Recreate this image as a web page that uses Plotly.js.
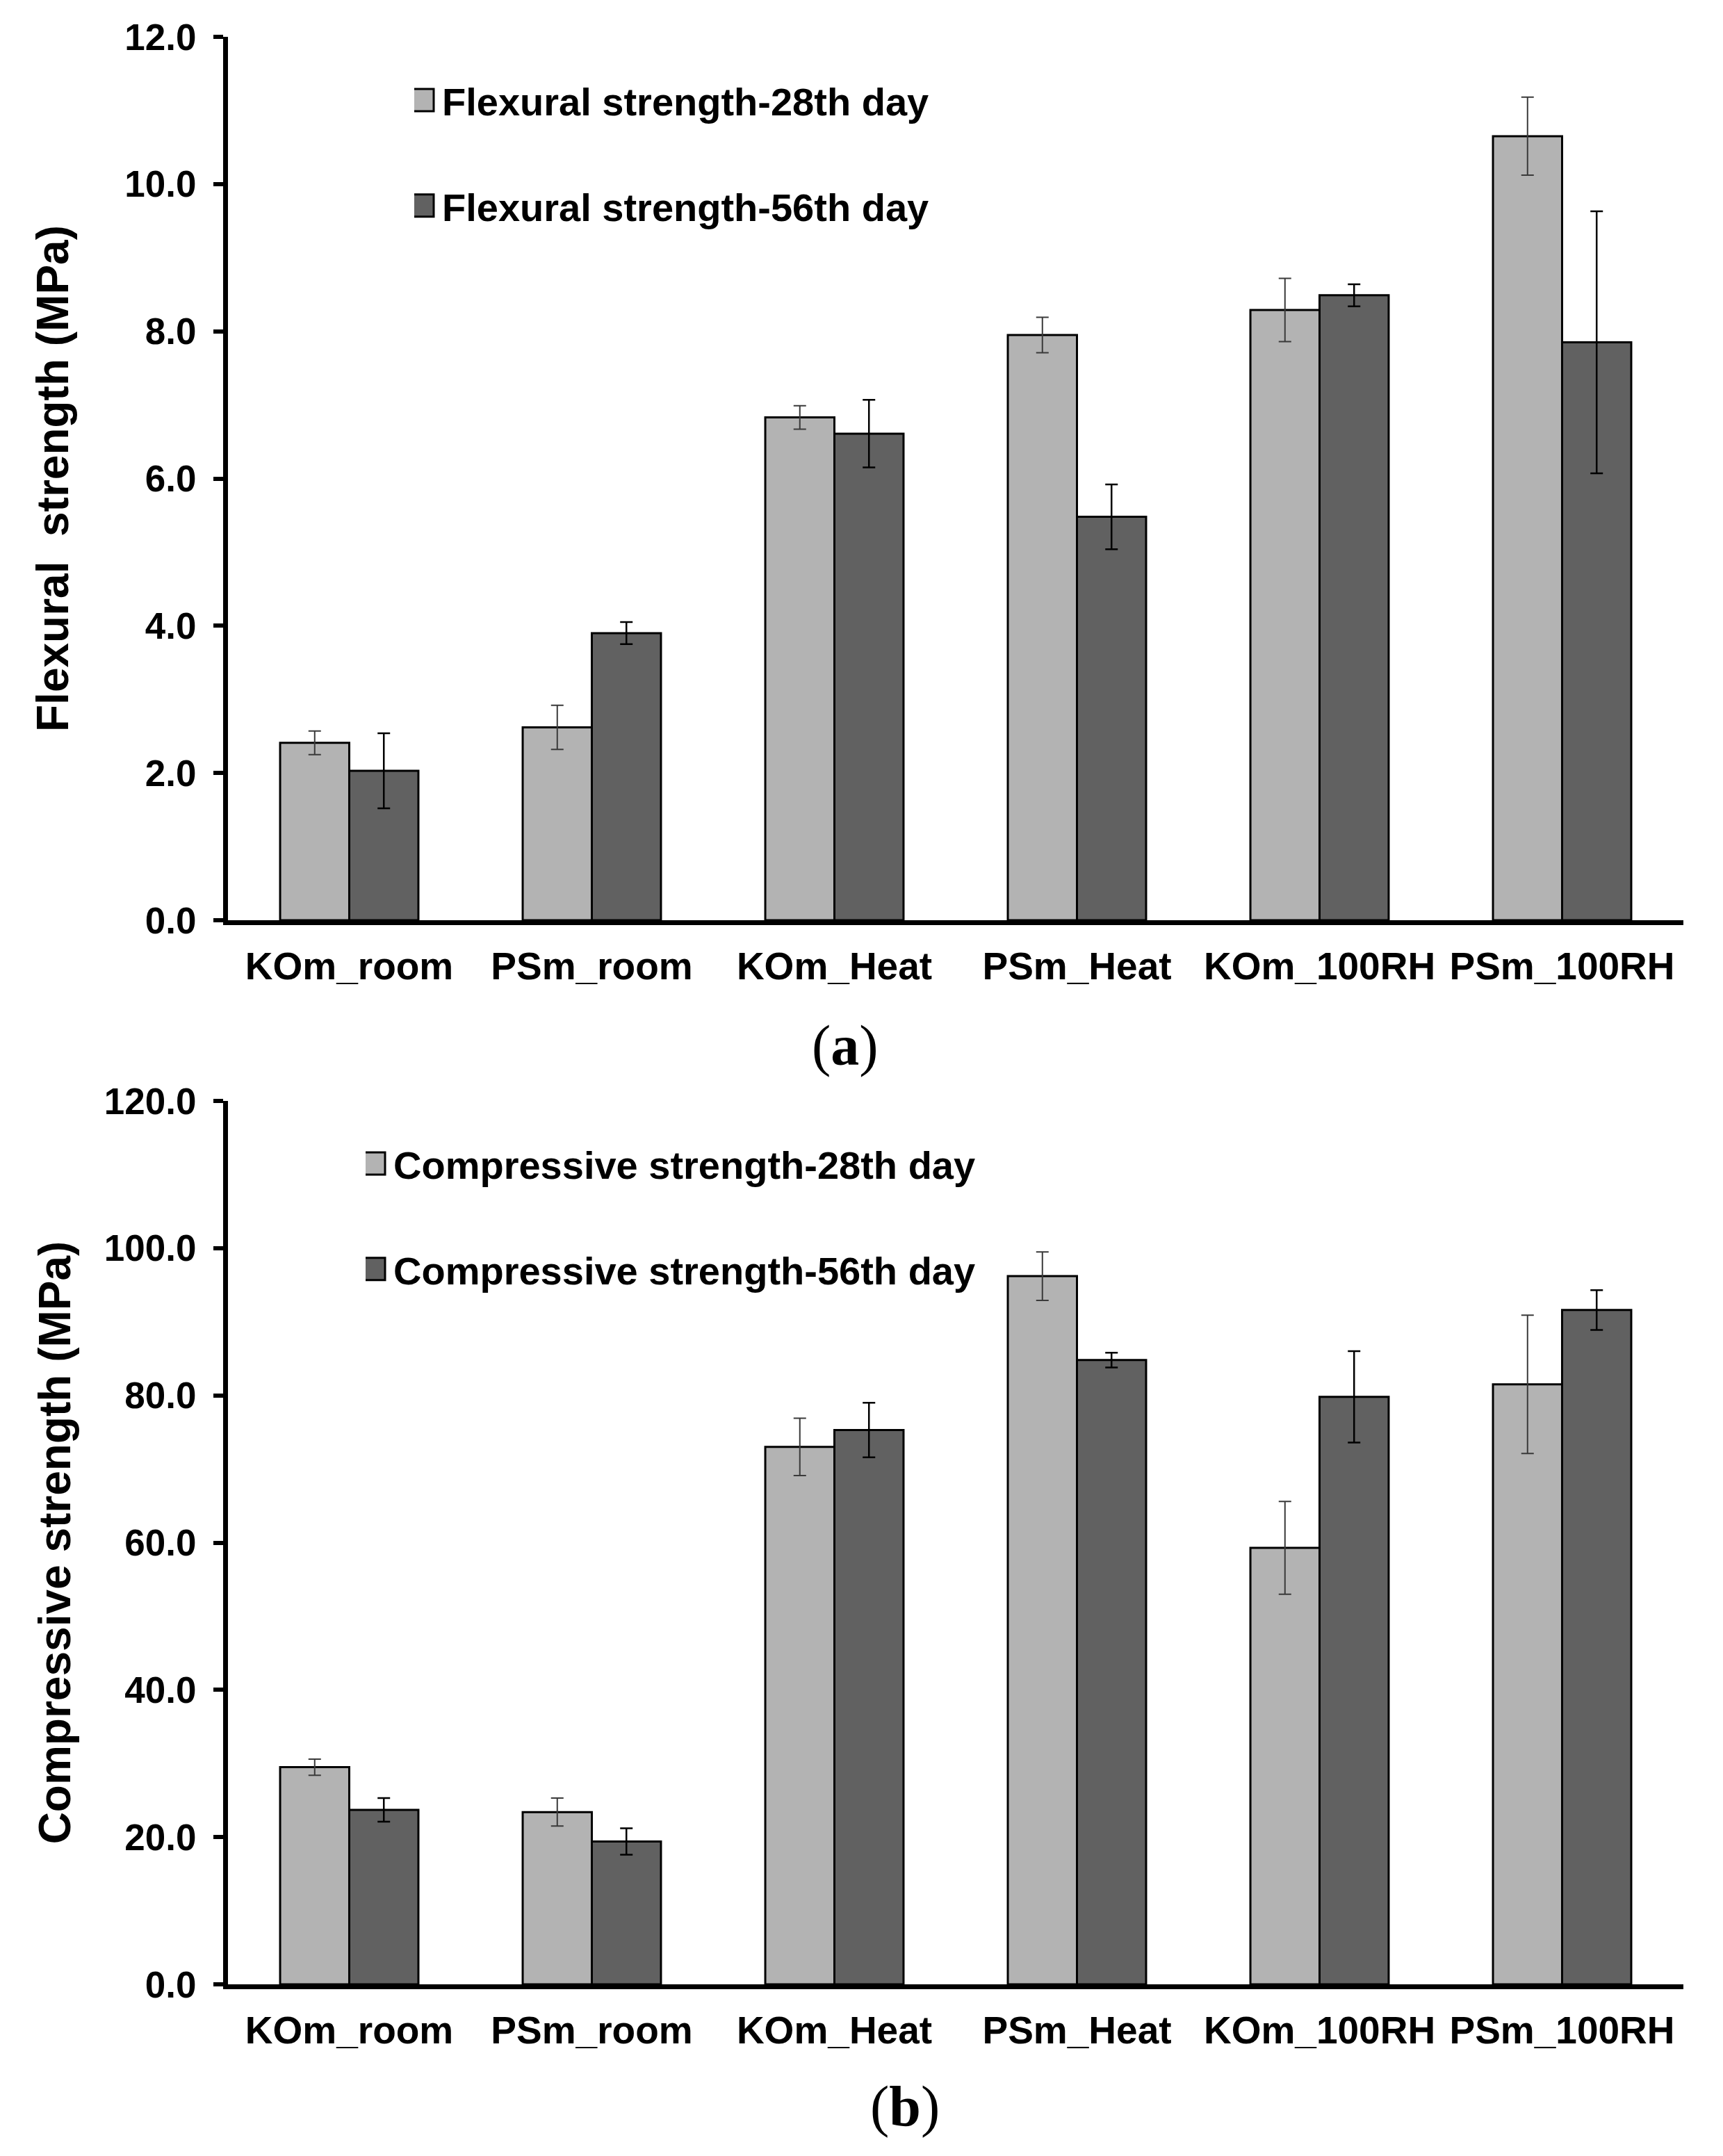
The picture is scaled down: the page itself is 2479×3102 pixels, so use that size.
<!DOCTYPE html>
<html>
<head>
<meta charset="utf-8">
<script src="https://cdn.plot.ly/plotly-3.0.1.min.js"></script>
<style>html,body{margin:0;padding:0;background:#fff;}#chart{width:2479px;height:3102px;}</style>
</head>
<body>
<div id="chart"></div>
<script>
// ---- data ----
const categories = ['KOm_room', 'PSm_room', 'KOm_Heat', 'PSm_Heat', 'KOm_100RH', 'PSm_100RH'];
const flex28 = [2.41, 2.62, 6.83, 7.95, 8.29, 10.65];
const flex28Err = [0.16, 0.30, 0.16, 0.24, 0.43, 0.53];
const flex56 = [2.03, 3.90, 6.61, 5.48, 8.49, 7.85];
const flex56Err = [0.51, 0.15, 0.46, 0.44, 0.15, 1.78];
const comp28 = [29.5, 23.4, 73.0, 96.2, 59.3, 81.5];
const comp28Err = [1.1, 1.9, 3.9, 3.3, 6.3, 9.4];
const comp56 = [23.7, 19.4, 75.3, 84.8, 79.8, 91.6];
const comp56Err = [1.6, 1.8, 3.7, 1.0, 6.2, 2.7];
const flexTicks = [0, 2, 4, 6, 8, 10, 12];
const compTicks = [0, 20, 40, 60, 80, 100, 120];

// ---- geometry helpers (pixel -> paper) ----
const W = 2479, H = 3102, ML = 328, MR = 57, MT = 0, MB = 0;
const PX = p => (p - ML) / (W - ML - MR);
const PY = p => 1 - (p - MT) / (H - MT - MB);

const LIGHT = '#b3b3b3', DARK = '#616161';
const boldSans = 'Liberation Sans, Arial, sans-serif';
const serif = 'Liberation Serif, Times New Roman, serif';

function barTrace(y, err, name, color, errColor, errThick, xa, ya, leg) {
  return {
    type: 'bar', x: categories, y: y, name: name, xaxis: xa, yaxis: ya, legend: leg,
    legendgroup: name,
    marker: {color: color, line: {color: '#000', width: 3}},
    error_y: {type: 'data', array: err, visible: true, color: errColor, thickness: errThick, width: 9}
  };
}

const data = [
  barTrace(flex28, flex28Err, 'Flexural strength-28th day', LIGHT, '#3a3a3a', 2, 'x', 'y', 'legend'),
  barTrace(flex56, flex56Err, 'Flexural strength-56th day', DARK, '#000', 2.5, 'x', 'y', 'legend'),
  barTrace(comp28, comp28Err, 'Compressive strength-28th day', LIGHT, '#3a3a3a', 2, 'x2', 'y2', 'legend2'),
  barTrace(comp56, comp56Err, 'Compressive strength-56th day', DARK, '#000', 2.5, 'x2', 'y2', 'legend2')
];

const xCommon = {
  type: 'category', range: [-0.5, 5.5], domain: [0, 1], tickangle: 0,
  showline: true, linecolor: '#000', linewidth: 7, ticks: '', showgrid: false, zeroline: false,
  automargin: false, ticklabelstandoff: 12,
  tickfont: {family: boldSans, size: 55, color: '#000', weight: 'bold'}
};
const yCommon = {
  showline: true, linecolor: '#000', linewidth: 7, ticks: 'outside', ticklen: 14, tickwidth: 6,
  tickcolor: '#000', showgrid: false, zeroline: false, tickformat: '.1f',
  tickfont: {family: boldSans, size: 53, color: '#000', weight: 'bold'},
  ticklabelstandoff: 14, automargin: 'left'
};

const layout = {
  width: W, height: H,
  margin: {l: ML, r: MR, t: MT, b: MB},
  paper_bgcolor: '#fff', plot_bgcolor: '#fff',
  barmode: 'group', bargap: 0.43, bargroupgap: 0,
  font: {family: boldSans, color: '#000'},
  xaxis: Object.assign({}, xCommon, {anchor: 'y'}),
  yaxis: Object.assign({}, yCommon, {anchor: 'x', domain: [PY(1324), PY(53)], range: [0, 12],
    tickvals: flexTicks,
    title: {text: 'Flexural\u00a0 strength (MPa)', standoff: 62,
      font: {family: boldSans, size: 64, color: '#000', weight: 'bold'}}}),
  xaxis2: Object.assign({}, xCommon, {anchor: 'y2'}),
  yaxis2: Object.assign({}, yCommon, {anchor: 'x2', domain: [PY(2855), PY(1584)], range: [0, 120],
    tickvals: compTicks,
    title: {text: 'Compressive strength (MPa)', standoff: 30,
      font: {family: boldSans, size: 64, color: '#000', weight: 'bold'}}}),
  legend: {x: PX(596), y: PY(101), xanchor: 'left', yanchor: 'top', bgcolor: 'rgba(0,0,0,0)',
    traceorder: 'grouped', tracegroupgap: 76,
    font: {family: boldSans, size: 56, color: '#000', weight: 'bold'}},
  legend2: {x: PX(526), y: PY(1631), xanchor: 'left', yanchor: 'top', bgcolor: 'rgba(0,0,0,0)',
    traceorder: 'grouped', tracegroupgap: 76,
    font: {family: boldSans, size: 56, color: '#000', weight: 'bold'}},
  annotations: [
    {text: '(<b>a</b>)', xref: 'paper', yref: 'paper', x: PX(1216), y: PY(1504), showarrow: false,
      xanchor: 'center', yanchor: 'middle', font: {family: serif, size: 82, color: '#000'}},
    {text: '(<b>b</b>)', xref: 'paper', yref: 'paper', x: PX(1302), y: PY(3030), showarrow: false,
      xanchor: 'center', yanchor: 'middle', font: {family: serif, size: 82, color: '#000'}}
  ],
  showlegend: true
};

Plotly.newPlot('chart', data, layout, {staticPlot: true, displayModeBar: false}).then(function () {
  document.querySelectorAll('g.legendpoints path').forEach(function (p) {
    p.setAttribute('d', 'M16,16H-16V-16H16Z');
    p.setAttribute('transform', 'translate(12,0)');
    p.style.strokeWidth = '3px';
    p.style.stroke = '#000';
  });
});
</script>
</body>
</html>
